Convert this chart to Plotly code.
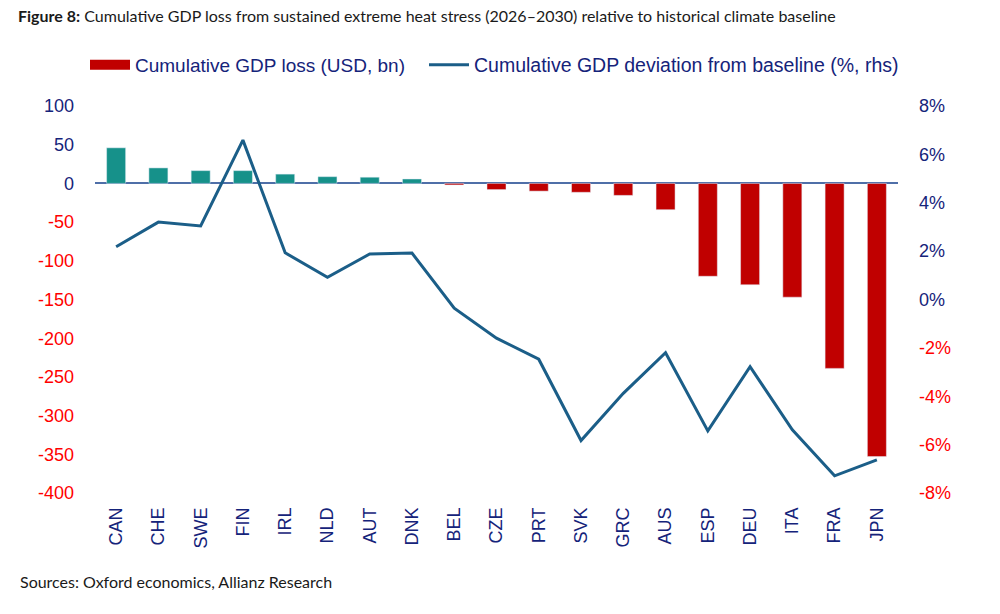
import plotly.graph_objects as go

countries = ["CAN", "CHE", "SWE", "FIN", "IRL", "NLD", "AUT", "DNK", "BEL", "CZE",
             "PRT", "SVK", "GRC", "AUS", "ESP", "DEU", "ITA", "FRA", "JPN"]
gdp_loss_usd_bn = [46, 20, 16.5, 16.5, 12, 8.7, 8, 5.7, -2, -8,
                   -10, -11.5, -15.5, -34, -120, -131, -147, -239, -353]
gdp_dev_pct = [2.18, 3.2, 3.04, 6.59, 1.93, 0.92, 1.88, 1.92, -0.36, -1.6,
               -2.47, -5.83, -3.88, -2.2, -5.43, -2.78, -5.39, -7.29, -6.63]

left_ticks = [100, 50, 0, -50, -100, -150, -200, -250, -300, -350, -400]
right_ticks = [8, 6, 4, 2, 0, -2, -4, -6, -8]

NAVY = "#15237a"
RED_TXT = "#ff0000"
TEAL = "#16918a"
RED_BAR = "#c00000"
LINE = "#1b5e88"

def lab(v, suffix=""):
    c = RED_TXT if v < 0 else NAVY
    return f'<span style="color:{c}">{v}{suffix}</span>'

pos_vals = [v if v >= 0 else None for v in gdp_loss_usd_bn]
neg_vals = [v if v < 0 else None for v in gdp_loss_usd_bn]

fig = go.Figure()
fig.add_trace(go.Bar(x=countries, y=neg_vals, marker_color=RED_BAR, width=0.45,
                     showlegend=False, legendgroup="bars", yaxis="y"))
fig.add_trace(go.Bar(x=countries, y=pos_vals, marker_color=TEAL, width=0.45,
                     showlegend=False, legendgroup="bars", yaxis="y"))
# legend entry for the bars (wide red swatch like the original)
fig.add_trace(go.Scatter(x=[countries[0]], y=[None], mode="lines",
                         line=dict(color=RED_BAR, width=11),
                         name="Cumulative GDP loss (USD, bn)", legendgroup="bars",
                         hoverinfo="skip", yaxis="y", legend="legend"))
fig.add_trace(go.Scatter(x=countries, y=gdp_dev_pct, mode="lines",
                         line=dict(color=LINE, width=3),
                         name="Cumulative GDP deviation from baseline (%, rhs)", yaxis="y2",
                         legend="legend2"))

W, H = 1000, 614
L, R, T, B = 95, 102, 106, 121
pw, ph = W - L - R, H - T - B
leg_y = (H - B - 65) / ph

fig.update_layout(
    width=W, height=H,
    margin=dict(l=L, r=R, t=T, b=B),
    paper_bgcolor="white", plot_bgcolor="white",
    barmode="relative",
    font=dict(family="Liberation Sans, Arial, sans-serif", size=18, color=NAVY),
    title=dict(text="<b>Figure 8:</b> Cumulative GDP loss from sustained extreme heat stress (2026–2030) relative to historical climate baseline",
               x=18 / W, xref="container", xanchor="left",
               y=1 - 16 / H, yref="container", yanchor="middle",
               font=dict(family="Lato, Open Sans, sans-serif", size=16, color="#1a1a1a")),
    legend=dict(orientation="h", x=(85 - L) / pw, xanchor="left",
                y=leg_y, yanchor="middle",
                font=dict(size=19, color=NAVY), bgcolor="rgba(0,0,0,0)",
                itemwidth=40),
    legend2=dict(orientation="h", x=(424 - L) / pw, xanchor="left",
                 y=leg_y, yanchor="middle",
                 font=dict(size=19.5, color=NAVY), bgcolor="rgba(0,0,0,0)",
                 itemwidth=40),
    xaxis=dict(type="category", tickangle=-90, showline=False, showgrid=False,
               ticks="", tickfont=dict(size=18, color=NAVY), ticklabelstandoff=10),
    yaxis=dict(range=[-400, 100], tickvals=left_ticks,
               ticktext=[lab(v) for v in left_ticks],
               showgrid=False, zeroline=True, zerolinecolor="#4f6fa8", zerolinewidth=1.5,
               showline=False, ticks="", tickfont=dict(size=18), ticklabelstandoff=20),
    yaxis2=dict(range=[-8, 8], tickvals=right_ticks,
                ticktext=[lab(v, "%") for v in right_ticks],
                overlaying="y", side="right", showgrid=False, zeroline=False,
                showline=False, ticks="", tickfont=dict(size=18), ticklabelstandoff=20),
    annotations=[dict(text="Sources: Oxford economics, Allianz Research",
                      xref="paper", yref="paper", x=(18 - L) / pw, y=(H - B - 581) / ph,
                      xanchor="left", yanchor="middle", showarrow=False,
                      font=dict(family="Lato, Open Sans, sans-serif", size=16, color="#1a1a1a"))],
)

fig.write_html("out.html")
